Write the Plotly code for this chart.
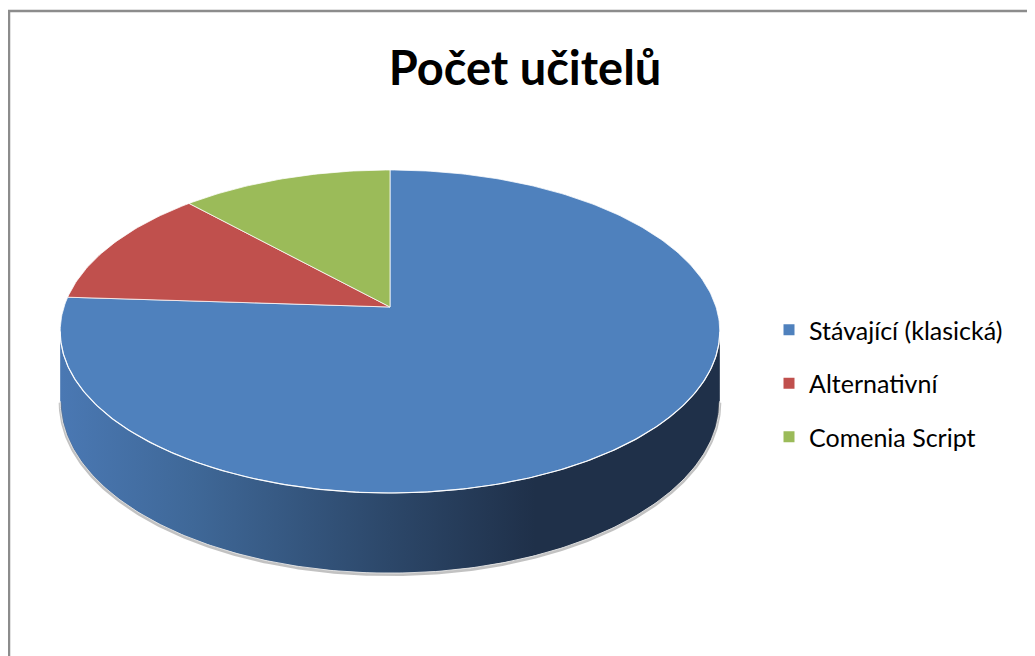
import numpy as np
import plotly.graph_objects as go

# ---- data ----
categories = ["Stávající (klasická)", "Alternativní", "Comenia Script"]
values = [19, 3, 3]
colors = ["#4f81bd", "#c0504d", "#9bbb59"]
title_text = "Počet učitelů"

# ---- page / geometry (axis units = screen pixels) ----
OFF = 8                      # default body margin of the html page
SW, SH = 1035, 656           # screen size
W, H = SW - OFF, SH - OFF    # figure size
cx, cy = 390.0, 307.0        # apex of the pie on screen
kx, ky = 326.0, 157.8        # horizontal / vertical radii scale
p = 0.1517                   # perspective factor
depth = 68.0                 # thickness of the pie


def px(x):
    return (x - OFF) / W


def py(y):
    return 1 - (y - OFF) / H


def proj(theta, dz=0.0):
    """theta in radians, 0 = far side (top), clockwise."""
    X = np.sin(theta)
    Y = np.cos(theta)
    w = 1.0 + p * Y
    sx = cx + kx * X / w
    sy = cy - ky * Y / w + dz / w
    return sx, sy


fig = go.Figure()

# ---- side wall (front visible part) ----
th_l = 2 * np.pi - np.arccos(-p)
th_r = np.arccos(-p)
th = np.linspace(th_r, th_l, 300)
tx, ty = proj(th)
bx, by = proj(th[::-1], depth)
side_x = np.concatenate([tx, bx, tx[:1]])
side_y = np.concatenate([ty, by, ty[:1]])
xmin, xmax = float(np.min(side_x)), float(np.max(side_x))
fig.add_trace(go.Scatter(
    x=side_x, y=side_y, mode="lines", fill="toself",
    line=dict(color="rgba(0,0,0,0)", width=0),
    fillgradient=dict(
        type="horizontal",
        colorscale=[[0.0, "#4a78b3"], [0.2, "#3f6898"], [0.5, "#2c4769"],
                    [0.72, "#1f3049"], [1.0, "#1f3049"]],
        start=xmin, stop=xmax),
    hoverinfo="skip", showlegend=False))
# soft shadow / outline along bottom edge
bx2, by2 = proj(th, depth)
fig.add_trace(go.Scatter(x=bx2, y=by2 + 1.5, mode="lines",
                         line=dict(color="rgba(120,120,120,0.45)", width=3),
                         hoverinfo="skip", showlegend=False))
fig.add_trace(go.Scatter(x=bx2, y=by2, mode="lines",
                         line=dict(color="rgba(230,230,230,0.9)", width=1),
                         hoverinfo="skip", showlegend=False))

# ---- top face slices ----
total = float(sum(values))
cum = 0.0
for name, v, c in zip(categories, values, colors):
    a0 = cum / total * 2 * np.pi
    cum += v
    a1 = cum / total * 2 * np.pi
    n = max(int((a1 - a0) / (2 * np.pi) * 400), 20)
    aa = np.linspace(a0, a1, n)
    sx, sy = proj(aa)
    xs = np.concatenate([[cx], sx, [cx]])
    ys = np.concatenate([[cy], sy, [cy]])
    fig.add_trace(go.Scatter(
        x=xs, y=ys, mode="lines", fill="toself", fillcolor=c,
        line=dict(color="rgba(255,255,255,0.75)", width=1),
        name=name, hoverinfo="name", showlegend=False))

# white rim highlight on the front edge of the top face
fig.add_trace(go.Scatter(x=tx, y=ty, mode="lines",
                         line=dict(color="rgba(255,255,255,0.9)", width=1.2),
                         hoverinfo="skip", showlegend=False))

# ---- legend entries ----
for i, (name, c) in enumerate(zip(categories, colors)):
    fig.add_trace(go.Scatter(
        x=[None], y=[None], mode="markers", name=name,
        marker=dict(symbol="square", size=11, color=c),
        legendgroup=f"g{i}", showlegend=True))

fig.update_layout(
    width=W, height=H,
    margin=dict(l=0, r=0, t=0, b=0),
    paper_bgcolor="white", plot_bgcolor="white",
    xaxis=dict(range=[OFF, SW], visible=False, fixedrange=True),
    yaxis=dict(range=[SH, OFF], visible=False, fixedrange=True),
    title=dict(text=f"<b>{title_text}</b>", x=px(525), y=py(69),
               xanchor="center", yanchor="middle",
               font=dict(family="Lato", size=47, color="#000000")),
    legend=dict(x=px(769), y=py(307), xanchor="left", yanchor="top",
                font=dict(family="Lato", size=25, color="#000000"),
                tracegroupgap=18, itemwidth=30,
                bgcolor="rgba(0,0,0,0)"),
    shapes=[dict(type="rect", xref="paper", yref="paper",
                 x0=px(9), x1=1.02, y0=-0.05, y1=py(11),
                 line=dict(color="#8c8c8c", width=2.5),
                 fillcolor="rgba(0,0,0,0)", layer="above")],
)

fig.write_html("out.html")
